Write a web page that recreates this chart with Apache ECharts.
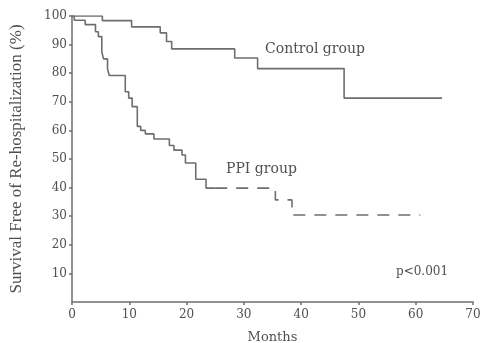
<!DOCTYPE html>
<html>
<head>
<meta charset="utf-8">
<script src="https://cdn.jsdelivr.net/npm/echarts@6/dist/echarts.min.js"></script>
<style>html,body{margin:0;padding:0;background:#fff;}#c{width:482px;height:343px;}</style>
</head>
<body>
<div id="c"></div>
<script>
// Control group Kaplan-Meier steps (months, survival %)
var controlTimes  = [0, 5.3, 10.4, 15.4, 16.5, 17.4, 28.4, 32.4, 47.5, 64.6];
var controlValues = [100, 98.4, 96.2, 94.1, 91.1, 88.5, 85.3, 81.6, 71.3, 71.3];
// PPI group Kaplan-Meier steps
var ppiTimes  = [0, 0.4, 2.3, 4.1, 4.6, 5.2, 5.5, 6.2, 6.5, 9.3, 9.9, 10.5, 11.4, 12.0, 12.8, 14.3, 17.0, 17.8, 19.2, 19.8, 21.6, 23.4, 35.5, 38.4, 60.8];
var ppiValues = [100, 98.5, 97, 94.5, 92.8, 87.5, 85, 81.5, 79.2, 73.5, 71.3, 68.3, 61.4, 60, 58.8, 57, 54.7, 53.1, 51.4, 48.6, 42.9, 39.8, 35.7, 30.4, 30.4];
var ppiDashFrom = 25; // month where the PPI curve becomes dashed
var yTicks = [10, 20, 30, 40, 50, 60, 70, 80, 90, 100];
var xTicks = [0, 10, 20, 30, 40, 50, 60, 70];

function pairs(t, v) { return t.map(function (x, i) { return [x, v[i]]; }); }
var ppiAll = pairs(ppiTimes, ppiValues);
var splitVal = ppiAll.filter(function (p) { return p[0] <= ppiDashFrom; }).slice(-1)[0][1];
var ppiSolid = ppiAll.filter(function (p) { return p[0] <= ppiDashFrom; }).concat([[ppiDashFrom, splitVal]]);
var ppiDash = [[ppiDashFrom, splitVal]].concat(ppiAll.filter(function (p) { return p[0] > ppiDashFrom; }));

var lineCol = '#6e6e6e';
var textCol = '#505050';
var serif = 'DejaVu Serif';

var chart = echarts.init(document.getElementById('c'), null, { renderer: 'canvas' });
chart.setOption({
  animation: false,
  backgroundColor: '#fff',
  grid: { left: 72, right: 9, top: 16, bottom: 41, containLabel: false, outerBoundsMode: 'none' },
  xAxis: {
    type: 'value', min: 0, max: 70, interval: 10,
    name: 'Months', nameLocation: 'middle', nameGap: 29,
    nameTextStyle: { fontFamily: serif, fontSize: 13, color: textCol },
    axisLine: { show: true, lineStyle: { color: lineCol, width: 1.5 } },
    axisTick: { show: true, length: 3, lineStyle: { color: lineCol, width: 1.5 } },
    axisLabel: { fontFamily: serif, fontSize: 12, color: textCol, margin: 7,
      formatter: function (v) { return xTicks.indexOf(v) >= 0 ? String(v) : ''; } },
    splitLine: { show: false }
  },
  yAxis: {
    type: 'value', min: 0, max: 100, interval: 10,
    name: 'Survival Free of Re-hospitalization (%)', nameLocation: 'middle', nameGap: 47, nameRotate: 90,
    nameTextStyle: { fontFamily: 'Liberation Serif', fontSize: 17, color: textCol },
    axisLine: { show: true, lineStyle: { color: lineCol, width: 1.5 } },
    axisTick: { show: true, length: 3, lineStyle: { color: lineCol, width: 1.5 } },
    axisLabel: { fontFamily: serif, fontSize: 12, color: textCol, margin: 5, showMinLabel: false,
      formatter: function (v) { return yTicks.indexOf(v) >= 0 ? String(v) : ''; } },
    splitLine: { show: false }
  },
  series: [
    { name: 'Control group', type: 'line', step: 'end', data: pairs(controlTimes, controlValues),
      symbol: 'none', lineStyle: { color: lineCol, width: 1.6 } },
    { name: 'PPI group', type: 'line', step: 'end', data: ppiSolid,
      symbol: 'none', lineStyle: { color: lineCol, width: 1.6 } },
    { name: 'PPI group dashed', type: 'line', step: 'end', data: ppiDash,
      symbol: 'none', lineStyle: { color: lineCol, width: 1.6, type: [12, 9] } }
  ],
  graphic: [
    { type: 'text', left: 265, top: 42, style: { text: 'Control group', font: '14px "DejaVu Serif"', fill: textCol } },
    { type: 'text', left: 226, top: 162, style: { text: 'PPI group', font: '14px "DejaVu Serif"', fill: textCol } },
    { type: 'text', left: 396, top: 266, style: { text: 'p<0.001', font: '12px "DejaVu Serif"', fill: textCol } }
  ]
});
</script>
</body>
</html>
